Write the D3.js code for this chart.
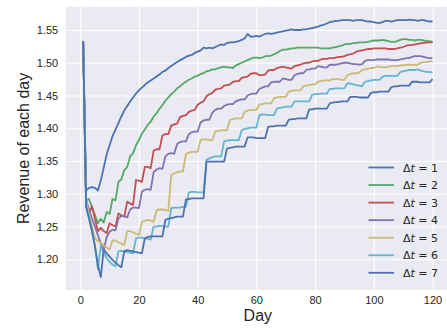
<!DOCTYPE html>
<html><head><meta charset="utf-8">
<script src="https://cdn.jsdelivr.net/npm/d3@7"></script>
<style>html,body{margin:0;padding:0;background:#fff;}svg{display:block;}</style>
</head><body>
<svg id="chart" width="447" height="330"></svg>
<script>
const days = d3.range(1, 121);
const xTicks = [0, 20, 40, 60, 80, 100, 120];
const yTicks = [1.20, 1.25, 1.30, 1.35, 1.40, 1.45, 1.50, 1.55];
const seriesNames = ["1", "2", "3", "4", "5", "6", "7"];
const colors = ["#4C72B0", "#55A868", "#C44E52", "#8172B2", "#CCB974", "#64B5CD", "#4C72B0"];

const dt1 = [1.533,1.305,1.309,1.310,1.309,1.305,1.320,1.340,1.360,1.374,
1.388,1.398,1.408,1.418,1.427,1.434,1.441,1.447,1.453,1.458,
1.462,1.466,1.470,1.473,1.476,1.479,1.482,1.486,1.488,1.492,
1.495,1.498,1.501,1.504,1.506,1.509,1.511,1.512,1.515,1.517,
1.519,1.523,1.522,1.523,1.522,1.524,1.526,1.528,1.527,1.530,
1.531,1.531,1.532,1.533,1.535,1.537,1.544,1.540,1.540,1.541,
1.540,1.542,1.544,1.545,1.544,1.545,1.546,1.547,1.548,1.549,
1.550,1.551,1.550,1.550,1.550,1.551,1.551,1.552,1.553,1.554,
1.555,1.557,1.558,1.560,1.562,1.563,1.564,1.564,1.565,1.565,
1.565,1.565,1.564,1.565,1.565,1.565,1.564,1.563,1.563,1.562,
1.561,1.561,1.562,1.564,1.564,1.563,1.564,1.565,1.565,1.565,
1.565,1.566,1.565,1.565,1.564,1.565,1.565,1.564,1.563,1.563];

const dt2 = [1.533,1.290,1.292,1.279,1.268,1.255,1.262,1.256,1.272,1.269,
1.292,1.290,1.318,1.322,1.336,1.341,1.357,1.362,1.374,1.382,
1.392,1.398,1.405,1.410,1.418,1.423,1.430,1.435,1.442,1.447,
1.452,1.456,1.461,1.464,1.468,1.471,1.474,1.476,1.479,1.480,
1.483,1.484,1.487,1.488,1.490,1.490,1.492,1.493,1.494,1.493,
1.493,1.492,1.496,1.498,1.500,1.502,1.504,1.506,1.508,1.508,
1.507,1.508,1.510,1.510,1.511,1.513,1.515,1.518,1.520,1.520,
1.521,1.522,1.522,1.523,1.523,1.523,1.523,1.523,1.523,1.523,
1.523,1.522,1.522,1.522,1.522,1.523,1.524,1.525,1.526,1.528,
1.529,1.529,1.530,1.530,1.531,1.531,1.531,1.532,1.533,1.534,
1.534,1.534,1.535,1.534,1.533,1.532,1.532,1.533,1.535,1.536,
1.536,1.535,1.535,1.534,1.535,1.535,1.534,1.533,1.533,1.532];

const dt3 = [1.533,1.282,1.270,1.281,1.262,1.243,1.248,1.243,1.240,1.255,
1.252,1.250,1.270,1.267,1.265,1.288,1.285,1.283,1.321,1.320,
1.318,1.341,1.341,1.339,1.366,1.368,1.368,1.389,1.391,1.391,
1.404,1.406,1.407,1.417,1.419,1.420,1.425,1.427,1.428,1.436,
1.439,1.441,1.449,1.452,1.454,1.459,1.460,1.461,1.465,1.466,
1.467,1.471,1.472,1.472,1.477,1.478,1.479,1.483,1.484,1.484,
1.481,1.481,1.482,1.488,1.489,1.489,1.492,1.493,1.494,1.493,
1.492,1.491,1.495,1.496,1.497,1.499,1.500,1.500,1.502,1.503,
1.503,1.505,1.506,1.506,1.507,1.507,1.508,1.509,1.509,1.510,
1.512,1.513,1.514,1.517,1.518,1.519,1.520,1.521,1.521,1.522,
1.522,1.522,1.522,1.522,1.521,1.521,1.521,1.522,1.523,1.524,
1.526,1.527,1.527,1.528,1.529,1.530,1.530,1.531,1.531,1.531];

const dt4 = [1.533,1.290,1.276,1.262,1.250,1.237,1.224,1.214,1.234,1.242,
1.245,1.244,1.262,1.266,1.266,1.264,1.276,1.279,1.279,1.278,
1.303,1.306,1.307,1.306,1.333,1.337,1.339,1.338,1.357,1.361,
1.362,1.361,1.376,1.379,1.380,1.380,1.391,1.394,1.395,1.395,
1.409,1.412,1.413,1.413,1.424,1.428,1.430,1.430,1.434,1.436,
1.437,1.437,1.441,1.443,1.444,1.444,1.450,1.452,1.453,1.453,
1.460,1.462,1.464,1.464,1.470,1.471,1.471,1.471,1.476,1.475,
1.474,1.474,1.481,1.483,1.484,1.484,1.489,1.490,1.491,1.491,
1.495,1.494,1.493,1.493,1.497,1.497,1.497,1.498,1.499,1.500,
1.500,1.499,1.498,1.498,1.497,1.498,1.503,1.504,1.504,1.504,
1.505,1.505,1.505,1.505,1.505,1.504,1.504,1.504,1.505,1.506,
1.507,1.507,1.509,1.510,1.510,1.510,1.509,1.508,1.507,1.507];

const dt5 = [1.533,1.288,1.270,1.250,1.232,1.228,1.225,1.221,1.218,1.215,
1.229,1.228,1.226,1.224,1.222,1.243,1.243,1.241,1.239,1.237,
1.257,1.259,1.260,1.259,1.257,1.275,1.276,1.276,1.275,1.274,
1.329,1.331,1.333,1.334,1.334,1.361,1.363,1.364,1.364,1.364,
1.382,1.383,1.383,1.382,1.382,1.395,1.396,1.397,1.397,1.397,
1.413,1.414,1.415,1.415,1.415,1.425,1.427,1.428,1.428,1.428,
1.436,1.437,1.438,1.438,1.438,1.446,1.447,1.448,1.448,1.448,
1.456,1.457,1.458,1.458,1.458,1.464,1.465,1.466,1.467,1.467,
1.471,1.472,1.473,1.473,1.473,1.475,1.475,1.475,1.474,1.474,
1.481,1.483,1.484,1.484,1.485,1.489,1.490,1.491,1.492,1.492,
1.494,1.494,1.493,1.493,1.494,1.495,1.495,1.495,1.496,1.496,
1.497,1.497,1.497,1.497,1.497,1.500,1.501,1.501,1.502,1.502];

const dt6 = [1.533,1.284,1.263,1.244,1.222,1.185,1.220,1.210,1.202,1.196,
1.192,1.189,1.212,1.213,1.212,1.211,1.210,1.209,1.232,1.233,
1.233,1.232,1.231,1.230,1.250,1.250,1.251,1.251,1.250,1.250,
1.278,1.279,1.279,1.279,1.280,1.280,1.302,1.303,1.303,1.302,
1.302,1.302,1.352,1.354,1.356,1.357,1.357,1.357,1.380,1.381,
1.382,1.382,1.382,1.382,1.397,1.399,1.400,1.401,1.401,1.401,
1.420,1.421,1.421,1.420,1.420,1.420,1.430,1.431,1.432,1.433,
1.433,1.433,1.441,1.441,1.441,1.441,1.441,1.441,1.451,1.452,
1.452,1.453,1.453,1.453,1.460,1.460,1.461,1.461,1.461,1.461,
1.469,1.468,1.467,1.466,1.465,1.464,1.471,1.472,1.473,1.474,
1.474,1.474,1.479,1.480,1.480,1.480,1.480,1.480,1.486,1.487,
1.488,1.489,1.489,1.489,1.490,1.488,1.487,1.486,1.486,1.485];

const dt7 = [1.533,1.280,1.262,1.243,1.220,1.192,1.173,1.215,1.209,1.204,
1.199,1.195,1.191,1.188,1.212,1.214,1.213,1.212,1.211,1.210,
1.209,1.232,1.234,1.235,1.235,1.235,1.235,1.235,1.260,1.262,
1.263,1.264,1.265,1.265,1.265,1.291,1.292,1.293,1.293,1.293,
1.293,1.293,1.349,1.349,1.349,1.349,1.349,1.349,1.349,1.369,
1.370,1.371,1.372,1.372,1.372,1.372,1.386,1.386,1.386,1.385,
1.385,1.385,1.385,1.402,1.403,1.403,1.404,1.404,1.404,1.404,
1.413,1.414,1.414,1.415,1.415,1.415,1.415,1.429,1.429,1.430,
1.430,1.430,1.430,1.430,1.438,1.439,1.440,1.440,1.441,1.441,
1.441,1.448,1.448,1.448,1.447,1.447,1.447,1.447,1.454,1.455,
1.455,1.456,1.456,1.456,1.456,1.463,1.464,1.464,1.465,1.465,
1.465,1.465,1.471,1.471,1.471,1.470,1.470,1.470,1.470,1.475];

const allSeries = [dt1, dt2, dt3, dt4, dt5, dt6, dt7];

const svg = d3.select("#chart");
const L = 65.7, R = 450, T = 6.7, B = 290;
const x = d3.scaleLinear().domain([-4.95, 125.95]).range([L, R]);
const y = d3.scaleLinear().domain([1.1531, 1.5856]).range([B, T]);
const txt = "#262626";

svg.append("rect").attr("width", 447).attr("height", 330).attr("fill", "#fff");
svg.append("defs").append("clipPath").attr("id", "clip")
  .append("rect").attr("x", L).attr("y", T).attr("width", R - L).attr("height", B - T);
svg.append("rect").attr("x", L).attr("y", T).attr("width", R - L).attr("height", B - T).attr("fill", "#EAEAF2");

// grid
const xAxis = d3.axisBottom(x).tickValues(xTicks).tickSize(-(B - T)).tickPadding(6).tickFormat(d3.format("d"));
const yAxis = d3.axisLeft(y).tickValues(yTicks).tickSize(-(R - L)).tickPadding(7.5).tickFormat(d3.format(".2f"));
const gx = svg.append("g").attr("transform", `translate(0,${B})`).call(xAxis);
const gy = svg.append("g").attr("transform", `translate(${L},0)`).call(yAxis);
[gx, gy].forEach(g => {
  g.select(".domain").remove();
  g.selectAll(".tick line").attr("stroke", "#fff").attr("stroke-width", 1.1);
  g.selectAll(".tick text").attr("fill", txt).attr("font-family", "'Liberation Sans', Arial, sans-serif").attr("font-size", 11);
});
gx.selectAll(".tick text").attr("dy", "0.71em");

// lines
const line = d3.line().x((d, i) => x(days[i])).y(d => y(d));
const lg = svg.append("g").attr("clip-path", "url(#clip)");
allSeries.forEach((s, i) => {
  lg.append("path").datum(s).attr("d", line).attr("fill", "none")
    .attr("stroke", colors[i]).attr("stroke-width", 1.8).attr("stroke-linejoin", "round").attr("stroke-linecap", "butt");
});

// labels
svg.append("text").attr("x", (L + R) / 2).attr("y", 321).attr("text-anchor", "middle")
  .attr("font-family", "'Liberation Sans', Arial, sans-serif").attr("font-size", 16).attr("fill", txt).text("Day");
svg.append("text").attr("transform", `translate(29,${(T + B) / 2}) rotate(-90)`).attr("text-anchor", "middle")
  .attr("font-family", "'Liberation Sans', Arial, sans-serif").attr("font-size", 16).attr("fill", txt).text("Revenue of each day");

// legend
const leg = svg.append("g");
seriesNames.forEach((n, i) => {
  const yy = 167.5 + i * 17.55;
  leg.append("line").attr("x1", 368.5).attr("x2", 394).attr("y1", yy).attr("y2", yy)
    .attr("stroke", colors[i]).attr("stroke-width", 1.8);
  const t = leg.append("text").attr("x", 403).attr("y", yy + 4)
    .attr("font-family", "'DejaVu Sans', sans-serif").attr("font-size", 11).attr("fill", txt);
  t.append("tspan").text("\u0394");
  t.append("tspan").attr("font-style", "italic").text("t");
  t.append("tspan").text(" = " + n);
});
</script>
</body></html>
